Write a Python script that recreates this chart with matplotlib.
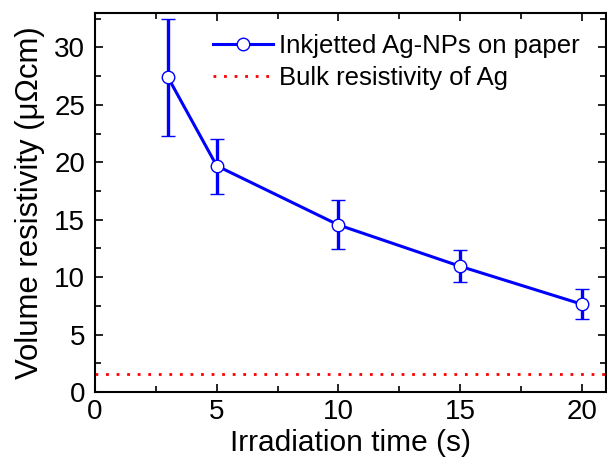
import matplotlib
matplotlib.use('Agg')
import matplotlib.pyplot as plt
from matplotlib.lines import Line2D
from matplotlib.ticker import MultipleLocator

plt.rcParams['font.family'] = ['Liberation Sans', 'DejaVu Sans']

# irradiation time (s) and measured volume resistivity (uOhm cm)
time_s = [3, 5, 10, 15, 20]
resistivity = [27.4, 19.7, 14.55, 10.95, 7.65]
err_low = [5.1, 2.45, 2.1, 1.38, 1.3]
err_high = [5.1, 2.35, 2.2, 1.4, 1.32]
bulk_ag = 1.59

blue = '#0000ff'

fig = plt.figure(figsize=(6.07, 4.61), dpi=100)
ax = fig.add_axes([95/607, 69/461, 511/607, 379/461])

ax.errorbar(time_s, resistivity, yerr=[err_low, err_high], color=blue,
            lw=2.2, elinewidth=2.4, capsize=5, capthick=2.4, marker='o',
            ms=9, mfc='white', mec=blue, mew=1.0, zorder=3)
ax.axhline(bulk_ag, color='red', ls=(0, (1, 2.8)), lw=2)

ax.set_xlim(0, 21)
ax.set_ylim(0, 33)
ax.xaxis.set_major_locator(MultipleLocator(5))
ax.xaxis.set_minor_locator(MultipleLocator(2.5))
ax.yaxis.set_major_locator(MultipleLocator(5))
ax.yaxis.set_minor_locator(MultipleLocator(2.5))
ax.tick_params(which='both', direction='in', top=True, right=True,
               labelsize=20, width=1.2)
ax.tick_params(which='major', length=6)
ax.tick_params(axis='x', which='major', pad=5)
ax.tick_params(axis='y', which='major', pad=7)
ax.tick_params(which='minor', length=4)
for s in ax.spines.values():
    s.set_linewidth(1.5)

ax.set_xlabel('Irradiation time (s)', fontsize=21.5, labelpad=3)
ax.set_ylabel('Volume resistivity (\u03bc\u03a9cm)', fontsize=22.4, labelpad=7)

handles = [
    Line2D([], [], color=blue, lw=2.2, marker='o', ms=9, mfc='white',
           mec=blue, mew=1.0),
    Line2D([], [], color='red', ls=(0, (1, 2.8)), lw=2),
]
labels = ['Inkjetted Ag-NPs on paper', 'Bulk resistivity of Ag']
ax.legend(handles, labels, loc='upper left', bbox_to_anchor=(0.231, 0.945),
          fontsize=18.5, frameon=False, handlelength=2.33,
          handletextpad=0.25, borderaxespad=0, borderpad=0,
          labelspacing=0.3)

fig.savefig('out.png', dpi=100)
